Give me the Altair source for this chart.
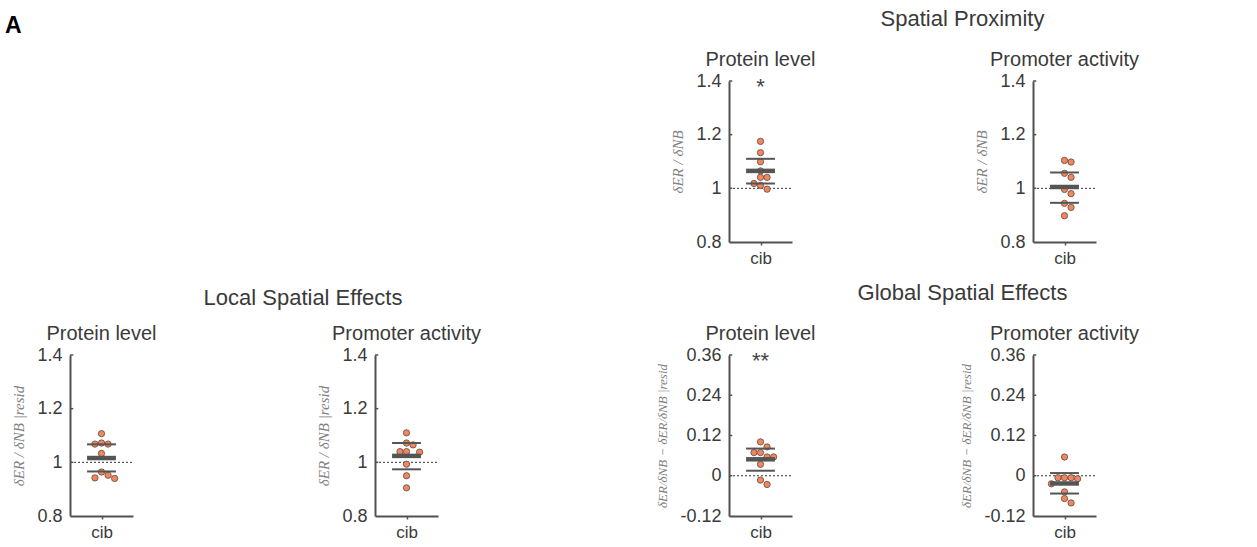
import altair as alt
import pandas as pd

CATEGORY = "cib"

# ---------------- data ----------------
# Spatial Proximity
sp_protein_values = [1.175, 1.133, 1.099, 1.065, 1.041, 1.041, 1.018, 1.011, 0.997]
sp_protein_slots = [0, 0, 0, 0, 0, 1, -1, 0, 1]
sp_protein_mean = [1.065]
sp_protein_ci = [1.018, 1.110]
sp_protein_sig = ["*"]

sp_promoter_values = [1.104, 1.098, 1.056, 1.041, 0.996, 0.980, 0.944, 0.929, 0.898]
sp_promoter_slots = [0, 1, 0, 1, 0, 1, 0, 1, 0]
sp_promoter_mean = [1.005]
sp_promoter_ci = [0.946, 1.059]
sp_promoter_sig = [""]

# Local Spatial Effects
loc_protein_values = [1.107, 1.068, 1.072, 1.068, 1.033, 0.964, 0.952, 0.942, 0.940]
loc_protein_slots = [0, -1, 0, 1, 0, 0, 1, -1, 2]
loc_protein_mean = [1.016]
loc_protein_ci = [0.966, 1.067]
loc_protein_sig = [""]

loc_promoter_values = [1.110, 1.072, 1.065, 1.040, 1.040, 1.038, 0.993, 0.950, 0.905]
loc_promoter_slots = [0, 0, 1, -1, 0, 2, 0, 0, 0]
loc_promoter_mean = [1.024]
loc_promoter_ci = [0.974, 1.072]
loc_promoter_sig = [""]

# Global Spatial Effects
glo_protein_values = [0.101, 0.086, 0.069, 0.069, 0.056, 0.056, 0.034, -0.013, -0.026]
glo_protein_slots = [0, 1, -1, 0, 1, 2, 0, 0, 1]
glo_protein_mean = [0.049]
glo_protein_ci = [0.015, 0.081]
glo_protein_sig = ["**"]

glo_promoter_values = [0.056, -0.006, -0.006, -0.006, -0.009, -0.024, -0.048, -0.068, -0.081]
glo_promoter_slots = [0, -1, 0, 1, 2, -2, 0, 0, 1]
glo_promoter_mean = [-0.023]
glo_promoter_ci = [-0.053, 0.008]
glo_promoter_sig = [""]

ratio_ticks = [0.8, 1.0, 1.2, 1.4]
diff_ticks = [-0.12, 0, 0.12, 0.24, 0.36]
ratio_ref = [1.0]
diff_ref = [0.0]

panel_titles = ["Protein level", "Promoter activity"]
group_titles = ["Spatial Proximity", "Local Spatial Effects", "Global Spatial Effects"]
ytitle_sp = "δER / δNB"
ytitle_loc = "δER / δNB |resid"
ytitle_glo = "δER/δNB − δER/δNB |resid"

# ---------------- styling ----------------
FONT = "Liberation Sans"
AXIS_COLOR = "#505050"
TEXT_COLOR = "#3a3a3a"
YTITLE_COLOR = "#808080"
ORANGE = "#F2865C"
EDGE = "#5e4a42"
BAR_COLOR = "#555555"
PANEL_W = 63
PANEL_H = 161
SLOT_DOMAIN = [-4.8, 4.8]
HALF_BAR = 2.2


def panel(values, slots, mean, ci, sig, ticks, ref, ytitle, title, ytitle_size=15):
    yscale = alt.Scale(domain=[ticks[0], ticks[-1]], nice=False, zero=False)
    xscale = alt.Scale(domain=SLOT_DOMAIN, nice=False, zero=False)
    yaxis = alt.Axis(
        values=ticks,
        labelExpr="replace(format(datum.value, '~g'), '\u2212', '-')",
        title=ytitle,
        titleFont="Liberation Serif",
        titleFontStyle="italic",
        titleFontWeight="normal",
        titleFontSize=ytitle_size,
        titleColor=YTITLE_COLOR,
        titlePadding=10,
        labelFontSize=18,
        labelColor=TEXT_COLOR,
        labelPadding=8,
        ticks=False,
        grid=False,
        domainColor=AXIS_COLOR,
        domainWidth=2,
    )
    xaxis = alt.Axis(
        values=[0],
        labelExpr=f"'{CATEGORY}'",
        title=None,
        labelFontSize=17,
        labelColor=TEXT_COLOR,
        labelPadding=5,
        ticks=True,
        tickSize=3,
        tickColor=AXIS_COLOR,
        tickWidth=1.5,
        grid=False,
        domainColor=AXIS_COLOR,
        domainWidth=2,
    )

    def yd(v):
        return alt.YDatum(v, scale=yscale, axis=yaxis)

    def xd(v):
        return alt.XDatum(v, scale=xscale, axis=xaxis)

    pts = pd.DataFrame({"value": values, "slot": slots})
    ci_df = pd.DataFrame({"value": ci})
    mean_df = pd.DataFrame({"value": mean})
    tick_df = pd.DataFrame({"t": ticks[1:]})
    ref_df = pd.DataFrame({"r": ref})

    ref_layer = alt.Chart(ref_df).mark_rule(
        color="#333333", strokeWidth=1, strokeDash=[2, 2]
    ).encode(
        y=alt.Y("r:Q", scale=yscale, axis=yaxis),
        x=xd(SLOT_DOMAIN[0]),
        x2=alt.datum(SLOT_DOMAIN[1]),
    )
    tick_layer = alt.Chart(tick_df).mark_rule(color=AXIS_COLOR, strokeWidth=1.5).encode(
        y=alt.Y("t:Q", scale=yscale, axis=yaxis),
        x=xd(SLOT_DOMAIN[0]),
        x2=alt.datum(SLOT_DOMAIN[0] + 0.5),
    )
    pt_layer = alt.Chart(pts).mark_circle(
        size=40, color=ORANGE, opacity=1, stroke=EDGE, strokeWidth=0.8
    ).encode(
        x=alt.X("slot:Q", scale=xscale, axis=xaxis),
        y=alt.Y("value:Q", scale=yscale, axis=yaxis),
    )
    ci_layer = alt.Chart(ci_df).mark_rule(color=BAR_COLOR, strokeWidth=2).encode(
        y=alt.Y("value:Q", scale=yscale, axis=yaxis),
        x=xd(-HALF_BAR),
        x2=alt.datum(HALF_BAR),
    )
    mean_layer = alt.Chart(mean_df).mark_rule(color=BAR_COLOR, strokeWidth=4.5).encode(
        y=alt.Y("value:Q", scale=yscale, axis=yaxis),
        x=xd(-HALF_BAR),
        x2=alt.datum(HALF_BAR),
    )
    layers = [ref_layer, tick_layer, pt_layer, ci_layer, mean_layer]
    if sig[0]:
        sig_df = pd.DataFrame({"sig": sig})
        sig_layer = alt.Chart(sig_df).mark_text(
            fontSize=22, color="#444444", baseline="alphabetic", dy=13, font=FONT
        ).encode(
            text="sig:N",
            y=yd(ticks[-1]),
            x=xd(0),
        )
        layers.append(sig_layer)

    return alt.layer(*layers).properties(
        width=PANEL_W,
        height=PANEL_H,
        title=alt.TitleParams(
            title, anchor="middle", frame="group", fontSize=20, fontWeight="normal",
            color=TEXT_COLOR, font=FONT, offset=-14, baseline="alphabetic",
        ),
    )


def spacer(width, title=None, **title_kw):
    c = alt.Chart(pd.DataFrame({"blank": [""]})).mark_text().encode(
        text="blank:N"
    ).properties(width=width, height=PANEL_H)
    if title is not None:
        c = c.properties(title=alt.TitleParams(title, frame="group", font=FONT,
                                               baseline="alphabetic", **title_kw))
    return c


GROUP_KW = dict(anchor="middle", fontSize=22, fontWeight="normal", color=TEXT_COLOR)

cells = [
    # row 1
    spacer(PANEL_W, "A", anchor="start", dx=-65, offset=25, fontSize=23,
           fontWeight="bold", color="#000000"),
    spacer(242),
    spacer(PANEL_W),
    spacer(291),
    panel(sp_protein_values, sp_protein_slots, sp_protein_mean, sp_protein_ci,
          sp_protein_sig, ratio_ticks, ratio_ref, ytitle_sp, panel_titles[0]),
    spacer(241, group_titles[0], dx=50, offset=33, **GROUP_KW),
    panel(sp_promoter_values, sp_promoter_slots, sp_promoter_mean, sp_promoter_ci,
          sp_promoter_sig, ratio_ticks, ratio_ref, ytitle_sp, panel_titles[1]),
    # row 2
    panel(loc_protein_values, loc_protein_slots, loc_protein_mean, loc_protein_ci,
          loc_protein_sig, ratio_ticks, ratio_ref, ytitle_loc, panel_titles[0]),
    spacer(242, group_titles[1], dx=49, offset=28, **GROUP_KW),
    panel(loc_promoter_values, loc_promoter_slots, loc_promoter_mean, loc_promoter_ci,
          loc_promoter_sig, ratio_ticks, ratio_ref, ytitle_loc, panel_titles[1]),
    spacer(291),
    panel(glo_protein_values, glo_protein_slots, glo_protein_mean, glo_protein_ci,
          glo_protein_sig, diff_ticks, diff_ref, ytitle_glo, panel_titles[0], 13),
    spacer(241, group_titles[2], dx=50, offset=33, **GROUP_KW),
    panel(glo_promoter_values, glo_promoter_slots, glo_promoter_mean, glo_promoter_ci,
          glo_promoter_sig, diff_ticks, diff_ref, ytitle_glo, panel_titles[1], 13),
]

chart = alt.concat(
    *cells, columns=7, spacing={"row": 113, "column": 0}, bounds="flush"
).properties(
    padding={"left": 5, "top": 8, "right": 5, "bottom": 5},
    background="white",
).configure(font=FONT, view=alt.ViewConfig(stroke=None))

chart.save("out.html", embed_options={"renderer": "svg", "actions": False})
